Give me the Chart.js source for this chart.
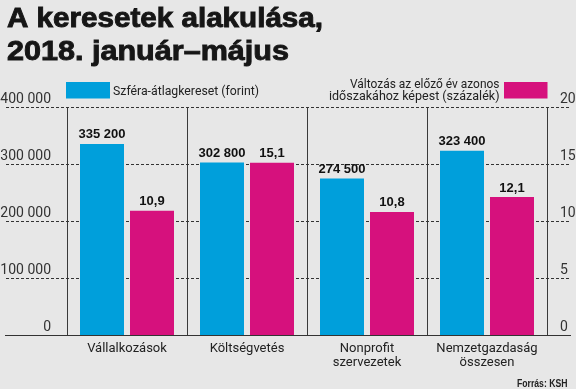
<!DOCTYPE html>
<html>
<head>
<meta charset="utf-8">
<script src="https://cdn.jsdelivr.net/npm/chart.js@4.4.1/dist/chart.umd.min.js"></script>
<style>
  html, body { margin: 0; padding: 0; background: #e7e7e7; }
  #wrap { width: 576px; height: 389px; position: relative; }
  canvas { display: block; }
</style>
</head>
<body>
<div id="wrap"><canvas id="c" width="576" height="389"></canvas></div>
<script>
// ---- data ----
const categories = [['Vállalkozások'], ['Költségvetés'], ['Nonprofit', 'szervezetek'], ['Nemzetgazdaság', 'összesen']];
const wageValues = [335200, 302800, 274500, 323400];
const changeValues = [10.9, 15.1, 10.8, 12.1];
const leftTickLabels = ['0', '100 000', '200 000', '300 000', '400 000'];
const rightTickLabels = ['0', '5', '10', '15', '20'];
const titleLines = ['A keresetek alakulása,', '2018. január–május'];
const wageLegend = 'Szféra-átlagkereset (forint)';
const changeLegend = ['Változás az előző év azonos', 'időszakához képest (százalék)'];
const sourceText = 'Forrás: KSH';

const BLUE = '#009fdb';
const MAGENTA = '#d6117d';
const BG = '#e7e7e7';

function fmtWage(v) { return String(v).replace(/\B(?=(\d{3})+(?!\d))/g, ' '); }
function fmtPct(v) { return v.toFixed(1).replace('.', ','); }

function drawFit(ctx, text, x, y, w, align) {
  const m = ctx.measureText(text).width;
  const s = w / m;
  ctx.save();
  ctx.translate(x, y);
  ctx.scale(s, 1);
  ctx.textAlign = align;
  ctx.fillText(text, 0, 0);
  if (ctx.__stroke) ctx.strokeText(text, 0, 0);
  ctx.restore();
}

const decorPlugin = {
  id: 'decor',
  beforeDraw(chart) {
    const ctx = chart.ctx;
    ctx.save();
    ctx.fillStyle = BG;
    ctx.fillRect(0, 0, chart.width, chart.height);
    ctx.restore();
  },
  beforeDatasetsDraw(chart) {
    const ctx = chart.ctx;
    const ys = chart.scales.y;
    ctx.save();
    ys.ticks.forEach(t => {
      const py = Math.round(ys.getPixelForValue(t.value)) + 0.5;
      ctx.beginPath();
      ctx.strokeStyle = '#333';
      ctx.lineWidth = 1;
      if (t.value === 0) {
        ctx.setLineDash([]);
        ctx.moveTo(5, py); ctx.lineTo(571, py);
      } else {
        ctx.setLineDash([3, 2]);
        ctx.moveTo(6, py); ctx.lineTo(570, py);
      }
      ctx.stroke();
    });
    ctx.restore();
  },
  afterDatasetsDraw(chart) {
    const ctx = chart.ctx;
    ctx.save();
    ctx.fillStyle = '#111';
    ctx.font = 'bold 13px "Liberation Sans", Arial, sans-serif';
    ctx.textAlign = 'center';
    ctx.textBaseline = 'alphabetic';
    chart.data.datasets.forEach((ds, di) => {
      const meta = chart.getDatasetMeta(di);
      meta.data.forEach((el, i) => {
        const txt = di === 0 ? fmtWage(ds.data[i]) : fmtPct(ds.data[i]);
        ctx.fillText(txt, el.x, el.y - 5.5);
      });
    });
    ctx.restore();
  },
  afterDraw(chart) {
    const ctx = chart.ctx;
    ctx.save();
    // title
    ctx.fillStyle = '#161616';
    ctx.strokeStyle = '#161616';
    ctx.lineWidth = 0.9;
    ctx.__stroke = true;
    ctx.font = 'bold 27px "Liberation Sans", Arial, sans-serif';
    ctx.textBaseline = 'alphabetic';
    drawFit(ctx, titleLines[0], 7, 26.5, 316, 'left');
    drawFit(ctx, titleLines[1], 7, 59.5, 282, 'left');
    ctx.__stroke = false;
    // legend
    ctx.fillStyle = BLUE;
    ctx.fillRect(66, 82, 44, 16.5);
    ctx.fillStyle = MAGENTA;
    ctx.fillRect(504, 82, 43.5, 16.5);
    ctx.fillStyle = '#222';
    ctx.font = '13.5px Roboto, "Liberation Sans", sans-serif';
    drawFit(ctx, wageLegend, 113, 95, 146, 'left');
    drawFit(ctx, changeLegend[0], 499.5, 87.5, 149.5, 'right');
    drawFit(ctx, changeLegend[1], 499.5, 99.5, 170.5, 'right');
    // source
    ctx.font = 'bold 10px "Liberation Sans", Arial, sans-serif';
    ctx.fillStyle = '#222';
    drawFit(ctx, sourceText, 567.5, 387, 50.5, 'right');
    ctx.restore();
  }
};

new Chart(document.getElementById('c'), {
  type: 'bar',
  data: {
    labels: categories,
    datasets: [
      { data: wageValues, backgroundColor: BLUE, borderWidth: 0, yAxisID: 'y',
        categoryPercentage: 0.8333, barPercentage: 0.88 },
      { data: changeValues, backgroundColor: MAGENTA, borderWidth: 0, yAxisID: 'y1',
        categoryPercentage: 0.8333, barPercentage: 0.88 }
    ]
  },
  options: {
    responsive: false,
    devicePixelRatio: 1,
    animation: false,
    layout: { padding: { top: 107, bottom: 14, left: 0, right: 0 } },
    plugins: { legend: { display: false }, title: { display: false }, tooltip: { enabled: false } },
    scales: {
      x: {
        offset: true,
        grid: { offset: true, color: '#3a3a3a', lineWidth: 1, drawTicks: false },
        border: { display: false },
        ticks: {
          color: '#222',
          padding: 7,
          font: { family: 'Roboto, "Liberation Sans", sans-serif', size: 13, lineHeight: 1.08 },
          maxRotation: 0, autoSkip: false
        },
        afterFit(s) { s.height = 40; }
      },
      y: {
        position: 'left',
        min: 0, max: 400000,
        grid: { display: false },
        border: { display: false },
        ticks: {
          stepSize: 100000,
          color: '#333',
          padding: 8,
          labelOffset: -7.5,
          font: { family: 'Roboto, "Liberation Sans", sans-serif', size: 14 },
          callback: (v, i) => leftTickLabels[i]
        },
        afterFit(s) { s.width = 67; }
      },
      y1: {
        position: 'right',
        min: 0, max: 20,
        grid: { display: false },
        border: { display: false },
        ticks: {
          stepSize: 5,
          color: '#333',
          padding: 5,
          labelOffset: -7.5,
          font: { family: 'Roboto, "Liberation Sans", sans-serif', size: 14 },
          callback: (v, i) => rightTickLabels[i]
        },
        afterFit(s) { s.width = 29; }
      }
    }
  },
  plugins: [decorPlugin]
});
</script>
</body>
</html>
